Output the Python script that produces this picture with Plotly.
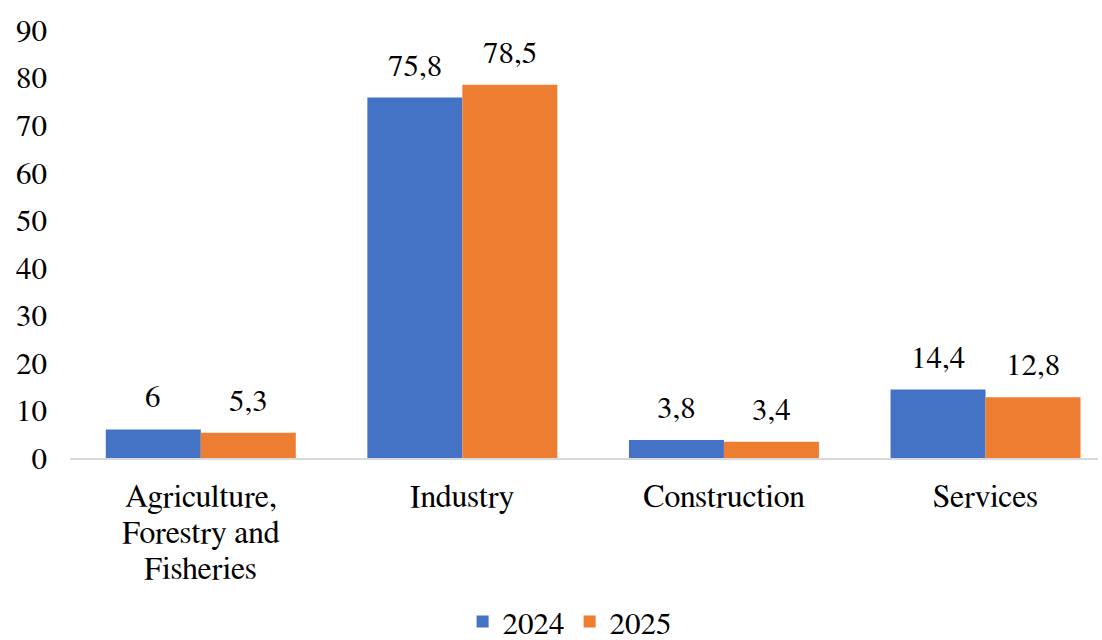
import plotly.graph_objects as go

categories = ["Agriculture, Forestry and Fisheries", "Industry", "Construction", "Services"]
category_lines = [["Agriculture,", "Forestry and", "Fisheries"], ["Industry"], ["Construction"], ["Services"]]
series_names = ["2024", "2025"]
values_2024 = [6, 75.8, 3.8, 14.4]
values_2025 = [5.3, 78.5, 3.4, 12.8]
labels_2024 = ["6", "75,8", "3,8", "14,4"]
labels_2025 = ["5,3", "78,5", "3,4", "12,8"]
y_ticks = [0, 10, 20, 30, 40, 50, 60, 70, 80, 90]

colors = ["#4472C4", "#ED7D31"]
FONT = "FreeSerif"

fig = go.Figure()
fig.add_trace(go.Bar(x=categories, y=values_2024, name=series_names[0],
                     marker=dict(color=colors[0], line=dict(width=0))))
fig.add_trace(go.Bar(x=categories, y=values_2025, name=series_names[1],
                     marker=dict(color=colors[1], line=dict(width=0))))

annotations = []
for vals, labs, shift in [(values_2024, labels_2024, -47.5), (values_2025, labels_2025, 47.5)]:
    for c, v, t in zip(categories, vals, labs):
        annotations.append(dict(x=c, y=v, text=t, xref="x", yref="y", showarrow=False,
                                xshift=shift, yanchor="bottom", yshift=14,
                                font=dict(family=FONT, size=31, color="#000000")))

# category labels (one annotation per line to match line spacing)
for c, lines in zip(categories, category_lines):
    for i, line in enumerate(lines):
        annotations.append(dict(x=c, y=0, text=line, xref="x", yref="y", showarrow=False,
                                yanchor="middle", yshift=-39 - 36 * i,
                                font=dict(family=FONT, size=32, color="#000000")))

fig.update_layout(
    width=1102, height=640,
    margin=dict(l=70, r=4, t=30, b=182, autoexpand=False),
    paper_bgcolor="white", plot_bgcolor="white",
    barmode="group", bargap=0.2737, bargroupgap=0,
    font=dict(family=FONT, size=30, color="#000000"),
    showlegend=True,
    legend=dict(orientation="h", x=0.486, xanchor="center", y=-0.383, yanchor="middle",
                font=dict(family=FONT, size=31, color="#000000"), itemwidth=30,
                traceorder="normal"),
    annotations=annotations,
    xaxis=dict(range=[-0.5, 3.43], showline=True, linecolor="#D9D9D9", linewidth=1.5,
               showgrid=False, zeroline=False, ticks="", showticklabels=False),
    yaxis=dict(range=[0, 90], tickvals=y_ticks, showgrid=False, zeroline=False,
               showline=False, ticks="", tickfont=dict(family=FONT, size=31), ticklabelstandoff=22),
)

fig.write_html("out.html")
